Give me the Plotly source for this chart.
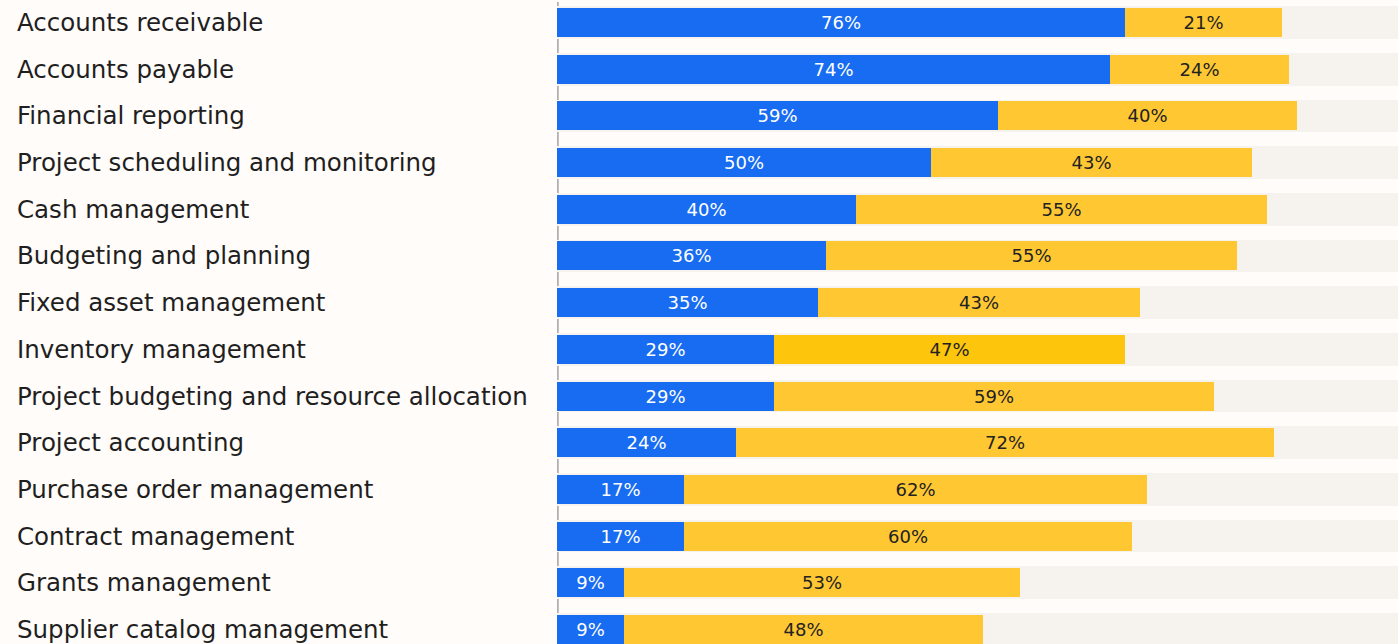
import plotly.graph_objects as go

categories = [
    "Accounts receivable", "Accounts payable", "Financial reporting",
    "Project scheduling and monitoring", "Cash management", "Budgeting and planning",
    "Fixed asset management", "Inventory management",
    "Project budgeting and resource allocation", "Project accounting",
    "Purchase order management", "Contract management", "Grants management",
    "Supplier catalog management",
]
blue_vals = [76, 74, 59, 50, 40, 36, 35, 29, 29, 24, 17, 17, 9, 9]
yellow_vals = [21, 24, 40, 43, 55, 55, 43, 47, 59, 72, 62, 60, 53, 48]

PX_PER_UNIT = 7.47
X_MIN = -2 / PX_PER_UNIT
X_MAX = (1398 - 557) / PX_PER_UNIT
BLUE = "#176cf2"
YELLOW = "#ffc832"
YELLOW_HL = "#fdc60c"
BAND = "#f6f2ee"
BG = "#fffcfa"
FONT = "DejaVu Sans"

yellow_colors = [YELLOW_HL if c == "Inventory management" else YELLOW for c in categories]

fig = go.Figure()
fig.add_trace(go.Bar(
    y=categories, x=[X_MAX] * len(categories), orientation="h",
    marker=dict(color=BAND, line=dict(width=0)), width=0.7,
    hoverinfo="skip", showlegend=False,
))
fig.add_trace(go.Bar(
    y=categories, x=blue_vals, orientation="h",
    marker=dict(color=BLUE, line=dict(width=0)), width=0.62,
    text=[f"{v}%" for v in blue_vals], textposition="inside",
    insidetextanchor="middle", constraintext="none",
    textfont=dict(color="white", size=18, family=FONT),
    showlegend=False,
))
fig.add_trace(go.Bar(
    y=categories, x=yellow_vals, base=blue_vals, orientation="h",
    marker=dict(color=yellow_colors, line=dict(width=0)), width=0.62,
    text=[f"{v}%" for v in yellow_vals], textposition="inside",
    insidetextanchor="middle", constraintext="none",
    textfont=dict(color="#222222", size=18, family=FONT),
    showlegend=False,
))

left_px = 555
for c in categories:
    fig.add_annotation(
        x=-(left_px - 15) / (1398 - left_px), xref="paper", y=c, yref="y",
        text=c, showarrow=False, xanchor="left", yanchor="middle",
        font=dict(size=24.5, color="#1f1f1f", family=FONT),
    )

# axis line drawn beneath the bars so it only shows in the gaps
fig.add_shape(
    type="line", xref="x", yref="paper", x0=0.12, x1=0.12, y0=0, y1=1,
    line=dict(color="#a8a8a8", width=1.6), layer="below",
)

fig.update_layout(
    width=1398, height=644,
    margin=dict(l=left_px, r=0, t=2, b=0),
    paper_bgcolor=BG, plot_bgcolor=BG,
    barmode="overlay", bargap=0,
    xaxis=dict(range=[X_MIN, X_MAX], visible=False, fixedrange=True),
    yaxis=dict(
        categoryorder="array", categoryarray=categories,
        range=[13.311, -0.439], showticklabels=False,
        showline=False, showgrid=False, zeroline=False, ticks="",
    ),
    uniformtext=dict(mode=False),
)

fig.write_html(
    "out.html",
    config={"displayModeBar": False},
    post_script="document.body.style.margin='0';document.body.style.overflow='hidden';",
)
